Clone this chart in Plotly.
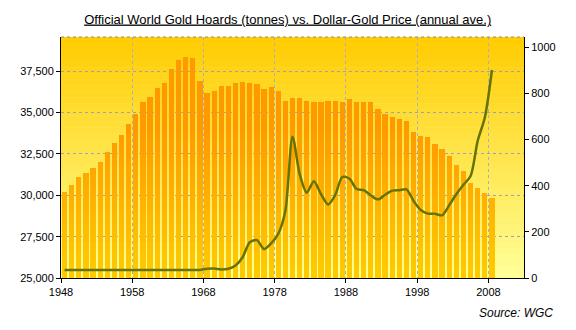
import numpy as np
import plotly.graph_objects as go

# ---------------- data ----------------
years = list(range(1948, 2009))
hoards_tonnes = [30200, 30630, 31090, 31320, 31600, 32040, 32610, 33170, 33650, 34300,
                 34930, 35650, 35940, 36480, 36790, 37620, 38120, 38340, 38300, 36920,
                 36200, 36300, 36620, 36600, 36770, 36830, 36790, 36720, 36400, 36530,
                 36290, 35710, 35870, 35870, 35710, 35650, 35650, 35710, 35710, 35650,
                 35800, 35650, 35590, 35590, 35210, 34930, 34740, 34610, 34480, 33840,
                 33590, 33500, 33060, 32790, 32380, 31830, 31470, 30770, 30440, 30120,
                 29840]
gold_price_usd = [35, 35, 35, 35, 35, 35, 35, 35, 35, 35,
                  35, 35, 35, 35, 35, 35, 35, 35, 35, 35,
                  40, 41, 37, 40, 54, 90, 155, 164, 125, 150,
                  192, 292, 613, 452, 370, 420, 364, 319, 360, 438,
                  430, 386, 381, 358, 341, 361, 379, 381, 384, 334,
                  295, 279, 279, 272, 316, 363, 404, 442, 595, 696,
                  902]
x_ticks = [1948, 1958, 1968, 1978, 1988, 1998, 2008]
left_ticks = [25000, 27500, 30000, 32500, 35000, 37500]
right_ticks = [0, 200, 400, 600, 800, 1000]

# ---------------- styling ----------------
Y_MIN, Y_MAX = 25000, 39570
Y2_MAX = 1045
FONT = "Liberation Sans, Arial, sans-serif"


def mix(c1, c2, t):
    a = np.array([int(c1[i:i + 2], 16) for i in (1, 3, 5)], float)
    b = np.array([int(c2[i:i + 2], 16) for i in (1, 3, 5)], float)
    c = a + (b - a) * t
    return "rgb(%d,%d,%d)" % tuple(np.round(c))


xc = [y + 0.5 for y in years]   # categories centred between ticks
vals = np.array(hoards_tonnes, float)

fig = go.Figure()

# bars, drawn as stacked colour bands to mimic the vertical gradient
n_bands = 40
edges = np.linspace(Y_MIN, Y_MAX, n_bands + 1)
for k in range(n_bands):
    lo = 0 if k == 0 else edges[k]
    hi = edges[k + 1]
    seg = np.clip(vals, lo, hi) - lo
    t = (edges[k] + edges[k + 1]) / 2
    t = (t - Y_MIN) / (Y_MAX - Y_MIN)
    t = min(1.0, t * 1.6)
    fig.add_trace(go.Bar(
        x=xc, y=seg, width=0.74,
        marker=dict(color=mix("#FFCC00", "#FF9900", t), line=dict(width=0)),
        hoverinfo="skip", showlegend=False))

# gold price line on the secondary axis
fig.add_trace(go.Scatter(
    x=xc, y=gold_price_usd, yaxis="y2", mode="lines",
    line=dict(color="#667300", width=2.5, shape="spline", smoothing=0.8),
    showlegend=False))

# background gradient for the plot area
shapes = []
n_bg = 40
for k in range(n_bg):
    t = (k + 0.5) / n_bg
    shapes.append(dict(type="rect", xref="paper", yref="paper",
                       x0=0, x1=1, y0=k / n_bg, y1=(k + 1) / n_bg,
                       fillcolor=mix("#FFFF99", "#FFCC00", t),
                       line=dict(width=0), layer="below"))
shapes.append(dict(type="line", xref="paper", yref="paper", x0=0, x1=1, y0=1, y1=1,
                   line=dict(color="#8C8C8C", width=1, dash="dot"), layer="above"))

fig.update_layout(
    width=576, height=330,
    margin=dict(l=61, r=52, t=37, b=52),
    paper_bgcolor="white", plot_bgcolor="#FFE860",
    barmode="stack", bargap=0, showlegend=False,
    font=dict(family=FONT, size=11, color="black"),
    shapes=shapes,
    title=dict(text="<u>Official World Gold Hoards (tonnes) vs. Dollar-Gold Price (annual ave.)</u>",
               x=0.4995, xref="container", xanchor="center",
               y=1 - 19 / 330, yref="container", yanchor="middle",
               font=dict(family=FONT, size=13, color="black")),
    xaxis=dict(range=[1948, 2013], tickmode="array", tickvals=x_ticks,
               ticktext=[str(v) for v in x_ticks],
               showline=True, linecolor="black", linewidth=1,
               ticks="outside", ticklen=4, tickcolor="black",
               showgrid=True, gridcolor="#A8AEC8", griddash="dot", gridwidth=1,
               zeroline=False, tickfont=dict(size=11)),
    yaxis=dict(range=[Y_MIN, Y_MAX], tickmode="array", tickvals=left_ticks,
               ticktext=[f"{v:,}" for v in left_ticks],
               showline=True, linecolor="black", linewidth=1,
               ticks="outside", ticklen=4, tickcolor="black",
               showgrid=True, gridcolor="#9EA2B8", griddash="dot", gridwidth=1,
               zeroline=False, tickfont=dict(size=11)),
    yaxis2=dict(range=[0, Y2_MAX], overlaying="y", side="right",
                tickmode="array", tickvals=right_ticks,
                ticktext=[str(v) for v in right_ticks],
                showline=True, linecolor="black", linewidth=1,
                ticks="outside", ticklen=4, tickcolor="black",
                showgrid=False, zeroline=False, tickfont=dict(size=11)),
    annotations=[dict(text="Source: WGC", xref="paper", yref="paper",
                      x=1.068, y=-0.146, xanchor="right", yanchor="middle",
                      showarrow=False,
                      font=dict(family=FONT, size=12, style="italic", color="black"))],
)

fig.write_html("out.html")
